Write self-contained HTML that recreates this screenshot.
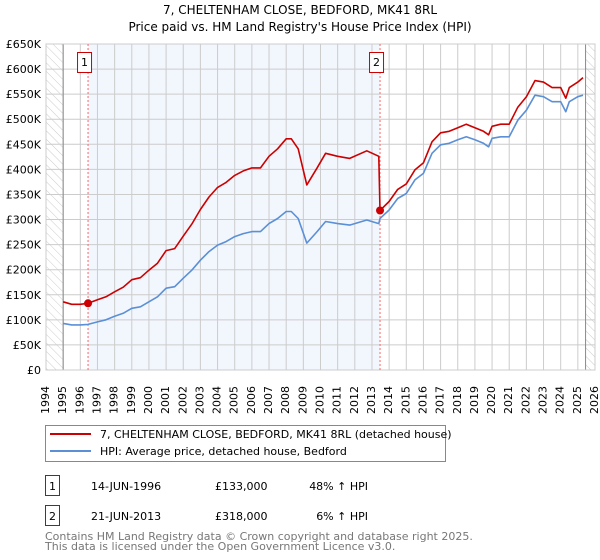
<!DOCTYPE html>
<html><head><meta charset="utf-8"><style>
body{margin:0;background:#fff;font-family:"Liberation Sans","DejaVu Sans",sans-serif}
svg text{font-family:"DejaVu Sans","Liberation Sans",sans-serif}
#wrap{position:relative;width:600px;height:560px}
.yr{position:absolute;top:382px;width:14px;height:32px;line-height:14px;font:11px "DejaVu Sans","Liberation Sans",sans-serif;color:#000;white-space:nowrap;writing-mode:vertical-rl;writing-mode:sideways-lr;text-align:left}
</style></head><body>
<div id="wrap">
<svg id="c" width="600" height="560" xmlns="http://www.w3.org/2000/svg" style="position:absolute;left:0;top:0">
<defs><pattern id="h" width="6" height="6" patternUnits="userSpaceOnUse" patternTransform="rotate(-45)"><line x1="0" y1="0" x2="0" y2="6" stroke="#ccc" stroke-width="1"/></pattern></defs>
<text x="300" y="14" text-anchor="middle" font-size="12">7, CHELTENHAM CLOSE, BEDFORD, MK41 8RL</text>
<text x="300" y="31" text-anchor="middle" font-size="12">Price paid vs. HM Land Registry's House Price Index (HPI)</text>
<g id="plot"></g>
<g>
<rect x="45.5" y="425.5" width="400" height="36" fill="#fff" stroke="#888"/>
<line x1="50" y1="434" x2="91" y2="434" stroke="#cc0000" stroke-width="2"/>
<text x="100" y="438" font-size="11">7, CHELTENHAM CLOSE, BEDFORD, MK41 8RL (detached house)</text>
<line x1="50" y1="451" x2="91" y2="451" stroke="#5b8fd6" stroke-width="2"/>
<text x="100" y="455" font-size="11">HPI: Average price, detached house, Bedford</text>
</g>
<g font-size="11">
<rect x="45.5" y="475.5" width="14" height="20" fill="#fff" stroke="#cc0000"/>
<text x="52.5" y="490" text-anchor="middle">1</text>
<text x="91" y="490">14-JUN-1996</text><text x="215" y="490">£133,000</text><text x="368" y="490" text-anchor="end">48% ↑ HPI</text>
<rect x="45.5" y="505.5" width="14" height="20" fill="#fff" stroke="#cc0000"/>
<text x="52.5" y="520" text-anchor="middle">2</text>
<text x="91" y="520">21-JUN-2013</text><text x="215" y="520">£318,000</text><text x="368" y="520" text-anchor="end">6% ↑ HPI</text>
</g>
<text x="45" y="540" font-size="11" fill="#777">Contains HM Land Registry data © Crown copyright and database right 2025.</text>
<text x="45" y="550" font-size="11" fill="#777">This data is licensed under the Open Government Licence v3.0.</text>
</svg>
</div>
<script>
const times=[1995,1995.5,1996,1996.45,1997,1997.5,1998,1998.5,1999,1999.5,2000,2000.5,2001,2001.5,2002,2002.5,2003,2003.5,2004,2004.5,2005,2005.5,2006,2006.5,2007,2007.5,2008,2008.3,2008.7,2009.2,2009.8,2010.3,2011,2011.7,2012.7,2013.4,2013.47,2014,2014.5,2015,2015.5,2016,2016.5,2017,2017.5,2018,2018.5,2019,2019.5,2019.8,2020,2020.5,2021,2021.5,2022,2022.5,2023,2023.5,2024,2024.3,2024.5,2025,2025.3];
const hpiValues=[93,90,90,91,96,100,107,113,123,126,136,146,163,166,183,199,219,236,249,256,266,272,276,276,292,302,316,316,302,253,276,296,292,289,299,292,302,319,342,352,379,392,432,449,452,459,465,459,452,445,462,465,465,498,518,548,545,535,535,515,535,545,548];
const priceValues=[136,131,131,133,140,146,156,165,180,184,199,213,238,242,267,291,320,345,364,374,388,397,403,403,426,441,461,461,441,369,403,432,426,422,437,426,318,336,360,371,399,413,455,473,476,483,490,483,476,469,486,490,490,524,545,577,574,563,563,542,563,574,583];
const saleTimes=[1996.45,2013.47];
const salePrices=[133,318];
const saleLabels=["1","2"];
const yTicks=[0,50,100,150,200,250,300,350,400,450,500,550,600,650];
const yTickLabels=["£0","£50K","£100K","£150K","£200K","£250K","£300K","£350K","£400K","£450K","£500K","£550K","£600K","£650K"];
const years=[];for(let y=1994;y<=2026;y++)years.push(y);

const X0=46,X1=595,Y0=370,Y1=44;
const xs=t=>X0+(t-1994)/(2026-1994)*(X1-X0);
const ys=v=>Y0-v/650*(Y0-Y1);
const NS="http://www.w3.org/2000/svg";
const g=document.getElementById('plot');
const wrap=document.getElementById('wrap');
function mk(tag,attrs,parent){const e=document.createElementNS(NS,tag);for(const k in attrs)e.setAttribute(k,attrs[k]);(parent||g).appendChild(e);return e;}

let e=mk('rect',{x:X0,y:Y1,width:X1-X0,height:Y0-Y1,fill:'#fff'});


e=mk('rect',{x:xs(saleTimes[0]),y:Y1,width:xs(saleTimes[1])-xs(saleTimes[0]),height:Y0-Y1,fill:'#f2f6fd'});


e=mk('rect',{x:X0,y:Y1,width:xs(1995)-X0,height:Y0-Y1,fill:'url(#h)'});


e=mk('rect',{x:xs(2025.45),y:Y1,width:X1-xs(2025.45),height:Y0-Y1,fill:'url(#h)'});



years.forEach(y=>{
 const l=mk('line',{x1:xs(y),x2:xs(y),y1:Y1,y2:Y0,stroke:'#ccc','stroke-width':1});
 
 
 const d=document.createElement('div');
 d.className='yr';
 d.style.left=(xs(y)-7)+'px';
 d.textContent=y;
 
 
 wrap.appendChild(d);
});
yTicks.forEach((v,i)=>{
 const l=mk('line',{x1:X0,x2:X1,y1:ys(v),y2:ys(v),stroke:'#ccc','stroke-width':1});
 
 
 const t=mk('text',{x:41,y:ys(v)+4,'font-size':11,'text-anchor':'end'});
 t.textContent=yTickLabels[i];
 
 
});
e=mk('line',{x1:xs(1995),x2:xs(1995),y1:Y1,y2:Y0,stroke:'#888'});


e=mk('line',{x1:xs(2025.45),x2:xs(2025.45),y1:Y1,y2:Y0,stroke:'#888'});


e=mk('rect',{x:X0,y:Y1,width:X1-X0,height:Y0-Y1,fill:'none',stroke:'#ccc'});



saleTimes.forEach((t,i)=>{
 const l=mk('line',{x1:xs(t),x2:xs(t),y1:Y1,y2:Y0,stroke:'#f66','stroke-dasharray':'2,2'});
 
 
 const r=mk('rect',{x:xs(t)-10.5,y:52.5,width:14,height:20,fill:'#fff',stroke:'#cc0000'});
 
 
 const tx=mk('text',{x:xs(t)-3.5,y:66,'font-size':11,'text-anchor':'middle'});
 tx.textContent=saleLabels[i];
 
 
});

const pts=a=>times.map((t,i)=>xs(t).toFixed(1)+','+ys(a[i]).toFixed(1)).join(' ');
e=mk('polyline',{points:pts(hpiValues),fill:'none',stroke:'#5b8fd6','stroke-width':1.6,'stroke-linejoin':'round'});


e=mk('polyline',{points:pts(priceValues),fill:'none',stroke:'#cc0000','stroke-width':1.6,'stroke-linejoin':'round'});


saleTimes.forEach((t,i)=>{
 const c=mk('circle',{cx:xs(t),cy:ys(salePrices[i]),r:4,fill:'#cc0000'});
 
 
});
</script>
</body></html>
